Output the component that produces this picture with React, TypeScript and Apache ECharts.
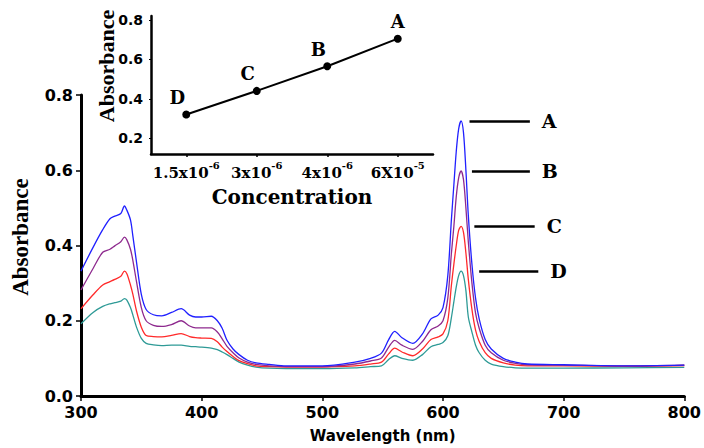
import React, { useEffect, useRef } from "react";
import * as echarts from "echarts";

// Main spectrum: wavelength (nm) and absorbance of the four solutions
const wavelengths = [
  300, 310, 318, 324, 328, 333, 336, 338, 341, 343,
  346, 350, 354, 360, 367, 375, 383, 390, 395, 400,
  408, 413, 417, 421, 426, 431, 438, 445, 456, 470,
  500, 527, 540, 549, 555, 560, 566, 575, 583, 590,
  596, 600, 604, 607, 609, 611, 613, 615, 617, 619,
  621, 624, 627, 630, 635, 640, 650, 660, 670, 700,
  750, 800,
];
const absA = [
  0.332, 0.395, 0.442, 0.471, 0.478, 0.485, 0.505, 0.494, 0.468, 0.425,
  0.356, 0.27, 0.23, 0.216, 0.213, 0.222, 0.232, 0.215, 0.21, 0.21,
  0.212, 0.2, 0.18, 0.148, 0.125, 0.11, 0.095, 0.088, 0.084, 0.08,
  0.08, 0.09, 0.1, 0.114, 0.15, 0.172, 0.155, 0.14, 0.165, 0.205,
  0.215, 0.235, 0.32, 0.47, 0.56, 0.65, 0.71, 0.731, 0.7, 0.6,
  0.48, 0.35, 0.26, 0.205, 0.15, 0.125, 0.1, 0.09, 0.085, 0.083,
  0.08, 0.082,
];
const absB = [
  0.282, 0.339, 0.382, 0.39, 0.399, 0.41, 0.422, 0.415, 0.39, 0.36,
  0.304, 0.235, 0.2, 0.188, 0.185, 0.19, 0.2, 0.186, 0.181, 0.181,
  0.181, 0.17, 0.152, 0.132, 0.115, 0.101, 0.09, 0.084, 0.08, 0.078,
  0.078, 0.085, 0.093, 0.101, 0.13, 0.148, 0.135, 0.124, 0.145, 0.176,
  0.186, 0.2, 0.26, 0.38, 0.45, 0.53, 0.58, 0.598, 0.575, 0.5,
  0.41, 0.3, 0.22, 0.18, 0.135, 0.115, 0.095, 0.087, 0.083, 0.082,
  0.08, 0.082,
];
const absC = [
  0.232, 0.269, 0.295, 0.304, 0.31, 0.318, 0.332, 0.325, 0.295, 0.27,
  0.226, 0.183, 0.161, 0.158, 0.157, 0.161, 0.166, 0.158, 0.155, 0.154,
  0.153, 0.144, 0.13, 0.118, 0.105, 0.094, 0.086, 0.08, 0.078, 0.077,
  0.077, 0.08, 0.085, 0.09, 0.112, 0.127, 0.117, 0.107, 0.125, 0.15,
  0.157, 0.165, 0.2, 0.295, 0.35, 0.4, 0.44, 0.451, 0.435, 0.38,
  0.31, 0.23, 0.175, 0.145, 0.115, 0.1, 0.088, 0.082, 0.08, 0.08,
  0.079, 0.081,
];
const absD = [
  0.192, 0.222, 0.238, 0.245, 0.248, 0.252, 0.259, 0.255, 0.235, 0.215,
  0.183, 0.153, 0.14, 0.136, 0.134, 0.135, 0.135, 0.132, 0.131, 0.13,
  0.127, 0.123, 0.117, 0.11, 0.1, 0.09, 0.082, 0.077, 0.074, 0.073,
  0.073, 0.075, 0.078, 0.08, 0.097, 0.107, 0.1, 0.095, 0.11, 0.131,
  0.137, 0.142, 0.16, 0.209, 0.25, 0.29, 0.32, 0.332, 0.32, 0.28,
  0.21, 0.17, 0.135, 0.115, 0.095, 0.085, 0.078, 0.075, 0.074, 0.074,
  0.075, 0.076,
];
const seriesNames = ["A", "B", "C", "D"];
const seriesColors = ["#2020ff", "#8e2a8e", "#ff2a2a", "#2e9a96"];

// Inset: absorbance at the 615 nm peak versus concentration
const concLabels = ["1.5x10^-6", "3x10^-6", "4x10^-6", "6X10^-5"];
const insetAbs = [0.32, 0.44, 0.565, 0.705];
const insetPointNames = ["D", "C", "B", "A"];

// Tick labels of the inset's y axis
const insetYTicks = [0.2, 0.4, 0.6, 0.8];

// Annotation leader lines (wavelength span) next to the peaks
const leaderStart = [622, 624, 626, 630];
const leaderEnd = [672, 672, 676, 679];

const SANS = "DejaVu Sans";
const SERIF = "DejaVu Serif";

export default function App() {
  const ref = useRef<HTMLDivElement>(null);
  useEffect(() => {
    if (!ref.current) return;
    const chart = echarts.init(ref.current, null, { renderer: "svg" });
    const spectra = [absA, absB, absC, absD];

    const mainSeries = spectra.map((arr, si) => {
      const peak = Math.max(...arr);
      return {
        type: "line",
        name: seriesNames[si],
        xAxisIndex: 0,
        yAxisIndex: 0,
        data: wavelengths.map((w, i) => [w, arr[i]]),
        showSymbol: false,
        smooth: 0.3,
        lineStyle: { color: seriesColors[si], width: 1.3 },
        itemStyle: { color: seriesColors[si] },
        z: 3 - si,
        markLine: {
          silent: true,
          symbol: ["none", "none"],
          lineStyle: { color: "#000", width: 2.5, type: "solid" },
          label: {
            show: true,
            position: "end",
            distance: 12,
            formatter: () => seriesNames[si],
            color: "#000",
            fontFamily: SERIF,
            fontWeight: "bold",
            fontSize: 19,
          },
          data: [
            [
              { coord: [leaderStart[si], peak] },
              { coord: [leaderEnd[si], peak] },
            ],
          ],
        },
      };
    });

    const option = {
      animation: false,
      backgroundColor: "#ffffff",
      grid: [
        { left: 81, right: 16, top: 95, bottom: 44 },
        { left: 151, top: 16, width: 282, height: 138 },
      ],
      xAxis: [
        {
          gridIndex: 0,
          type: "value",
          min: 300,
          max: 800,
          interval: 100,
          splitLine: { show: false },
          axisLine: { show: true, lineStyle: { color: "#000", width: 3 } },
          axisTick: { show: true, length: 5, lineStyle: { color: "#000", width: 1.5 } },
          axisLabel: {
            color: "#000",
            fontFamily: SANS,
            fontWeight: "bold",
            fontSize: 16,
            margin: 8,
          },
          name: "Wavelength (nm)",
          nameLocation: "middle",
          nameGap: 32,
          nameTextStyle: {
            color: "#000",
            fontFamily: SANS,
            fontWeight: "bold",
            fontSize: 15,
          },
        },
        {
          gridIndex: 1,
          type: "category",
          data: concLabels,
          boundaryGap: true,
          splitLine: { show: false },
          axisLine: { show: true, lineStyle: { color: "#000", width: 2.5 } },
          axisTick: { show: true, alignWithLabel: true, length: 3, lineStyle: { color: "#000", width: 1.5 } },
          axisLabel: {
            interval: 0,
            hideOverlap: false,
            margin: 6,
            formatter: (v: string) => {
              const [b, e] = v.split("^");
              return `{b|${b}}{s|${e}}`;
            },
            rich: {
              b: {
                fontFamily: SERIF,
                fontWeight: "bold",
                fontSize: 15,
                color: "#000",
                lineHeight: 20,
                verticalAlign: "bottom",
              },
              s: {
                fontFamily: SERIF,
                fontWeight: "bold",
                fontSize: 10,
                color: "#000",
                lineHeight: 20,
                verticalAlign: "top",
              },
            },
          },
          name: "Concentration",
          nameLocation: "middle",
          nameGap: 33,
          nameTextStyle: {
            color: "#000",
            fontFamily: SERIF,
            fontWeight: "bold",
            fontSize: 20,
          },
        },
      ],
      yAxis: [
        {
          gridIndex: 0,
          type: "value",
          min: 0,
          max: 0.8,
          interval: 0.2,
          splitLine: { show: false },
          axisLine: { show: true, lineStyle: { color: "#000", width: 3 } },
          axisTick: { show: true, length: 5, lineStyle: { color: "#000", width: 1.5 } },
          axisLabel: {
            color: "#000",
            fontFamily: SANS,
            fontWeight: "bold",
            fontSize: 16,
            margin: 8,
            formatter: (v: number) => v.toFixed(1),
          },
        },
        {
          gridIndex: 1,
          type: "value",
          min: 0.12,
          max: 0.82,
          splitLine: { show: false },
          axisLine: { show: true, lineStyle: { color: "#000", width: 2.5 } },
          axisTick: { show: true, length: 2, customValues: insetYTicks, lineStyle: { color: "#000", width: 1 } },
          axisLabel: {
            customValues: insetYTicks,
            color: "#000",
            fontFamily: SANS,
            fontWeight: "bold",
            fontSize: 14,
            margin: 8,
            formatter: (v: number) => v.toFixed(1),
          },
        },
      ],
      graphic: [
        {
          type: "text",
          x: 20,
          y: 237,
          rotation: Math.PI / 2,
          style: {
            text: "Absorbance",
            fontFamily: "Liberation Serif",
            fontWeight: "bold",
            fontSize: 23,
            fill: "#000",
            align: "center",
            verticalAlign: "middle",
          },
        },
        {
          type: "text",
          x: 106,
          y: 66,
          rotation: Math.PI / 2,
          style: {
            text: "Absorbance",
            fontFamily: "Liberation Serif",
            fontWeight: "bold",
            fontSize: 22,
            fill: "#000",
            align: "center",
            verticalAlign: "middle",
          },
        },
      ],
      series: [
        ...mainSeries,
        {
          type: "line",
          name: "inset",
          xAxisIndex: 1,
          yAxisIndex: 1,
          data: insetAbs.map((v, i) => ({
            value: v,
            label: { offset: i === insetAbs.length - 1 ? [0, 0] : [-9, 0] },
          })),
          symbol: "circle",
          symbolSize: 8,
          lineStyle: { color: "#000", width: 2 },
          itemStyle: { color: "#000" },
          label: {
            show: true,
            position: "top",
            distance: 4,
            formatter: (p: any) => insetPointNames[p.dataIndex],
            color: "#000",
            fontFamily: SERIF,
            fontWeight: "bold",
            fontSize: 18,
          },
        },
      ],
    };
    chart.setOption(option as any);
    return () => chart.dispose();
  }, []);
  return (
    <div
      ref={ref}
      style={{ position: "fixed", left: 0, top: 0, width: 704, height: 448, background: "#fff" }}
    />
  );
}
